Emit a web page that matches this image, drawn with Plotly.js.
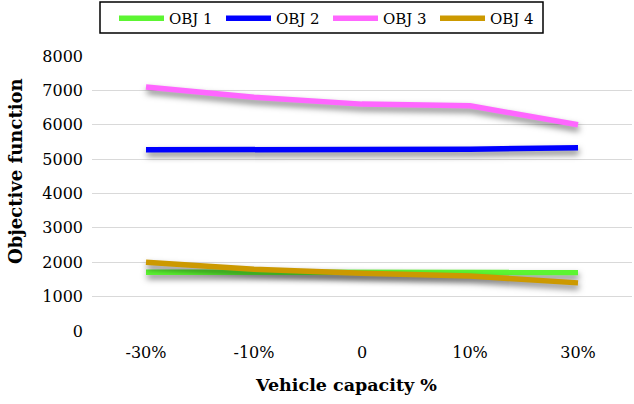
<!DOCTYPE html>
<html>
<head>
<meta charset="utf-8">
<script src="https://cdn.plot.ly/plotly-3.0.1.min.js"></script>
<style>
  html, body { margin: 0; padding: 0; background: #fff; }
  #chart { width: 634px; height: 404px; }
  .scatterlayer .js-line { filter: drop-shadow(1px 4px 3px rgba(0,0,0,0.5)); }
</style>
</head>
<body>
<div id="chart"></div>
<script>
const categories = ["-30%", "-10%", "0", "10%", "30%"];
const seriesNames = ["OBJ 1", "OBJ 2", "OBJ 3", "OBJ 4"];
const obj1 = [1710, 1705, 1705, 1700, 1700];
const obj2 = [5270, 5275, 5285, 5290, 5330];
const obj3 = [7100, 6800, 6600, 6550, 6000];
const obj4 = [2000, 1800, 1680, 1600, 1400];
const yTicks = [0, 1000, 2000, 3000, 4000, 5000, 6000, 7000, 8000];
const xTitle = "Vehicle capacity %";
const yTitle = "Objective function";

const colors = ["#5CF532", "#0000FF", "#FF66FF", "#CC9900"];
const values = [obj1, obj2, obj3, obj4];

const traces = values.map((v, i) => ({
  type: "scatter",
  mode: "lines",
  x: categories,
  y: v,
  name: seriesNames[i],
  line: { color: colors[i], width: 5.5 }
}));

// pixel geometry helpers
const W = 634, H = 404;
const M = { l: 92, r: 2, t: 56, b: 73 };
const PW = W - M.l - M.r, PH = H - M.t - M.b;
const px = x => (x - M.l) / PW;
const py = y => (H - M.b - y) / PH;

const font = "DejaVu Serif, serif";
const layout = {
  width: W,
  height: H,
  margin: M,
  paper_bgcolor: "#fff",
  plot_bgcolor: "#fff",
  showlegend: true,
  legend: {
    orientation: "h",
    xref: "container", yref: "container",
    x: 114 / W, xanchor: "left",
    y: 1 - 2 / H, yanchor: "top",
    borderwidth: 0,
    bgcolor: "rgba(0,0,0,0)",
    font: { family: font, size: 15, color: "#000" },
    itemwidth: 45,
    entrywidth: 47,
    entrywidthmode: "pixels"
  },
  shapes: [{
    type: "rect", xref: "paper", yref: "paper",
    x0: px(100), x1: px(543), y0: py(2), y1: py(33),
    line: { color: "#000", width: 1.5 }, fillcolor: "rgba(0,0,0,0)", layer: "below"
  }],
  annotations: [
    { text: xTitle, xref: "paper", yref: "paper", x: px(346), y: py(385),
      xanchor: "center", yanchor: "middle", showarrow: false,
      font: { family: font, size: 17.5, color: "#000", weight: "bold" } },
    { text: yTitle, xref: "paper", yref: "paper", x: px(15), y: py(171),
      xanchor: "center", yanchor: "middle", showarrow: false, textangle: -90,
      font: { family: font, size: 18, color: "#000", weight: "bold" } }
  ],
  xaxis: {
    type: "category",
    range: [-0.5, 4.5],
    showgrid: false,
    zeroline: false,
    showline: false,
    ticks: "",
    ticklabelstandoff: 10,
    tickfont: { family: font, size: 16, color: "#000" }
  },
  yaxis: {
    range: [0, 8000],
    tickvals: yTicks,
    showgrid: true,
    gridcolor: "#d9d9d9",
    gridwidth: 1,
    zeroline: false,
    showline: false,
    ticks: "",
    ticklabelstandoff: 8,
    tickfont: { family: font, size: 16, color: "#000" }
  }
};

Plotly.newPlot("chart", traces, layout, { staticPlot: true, displayModeBar: false });
</script>
</body>
</html>
